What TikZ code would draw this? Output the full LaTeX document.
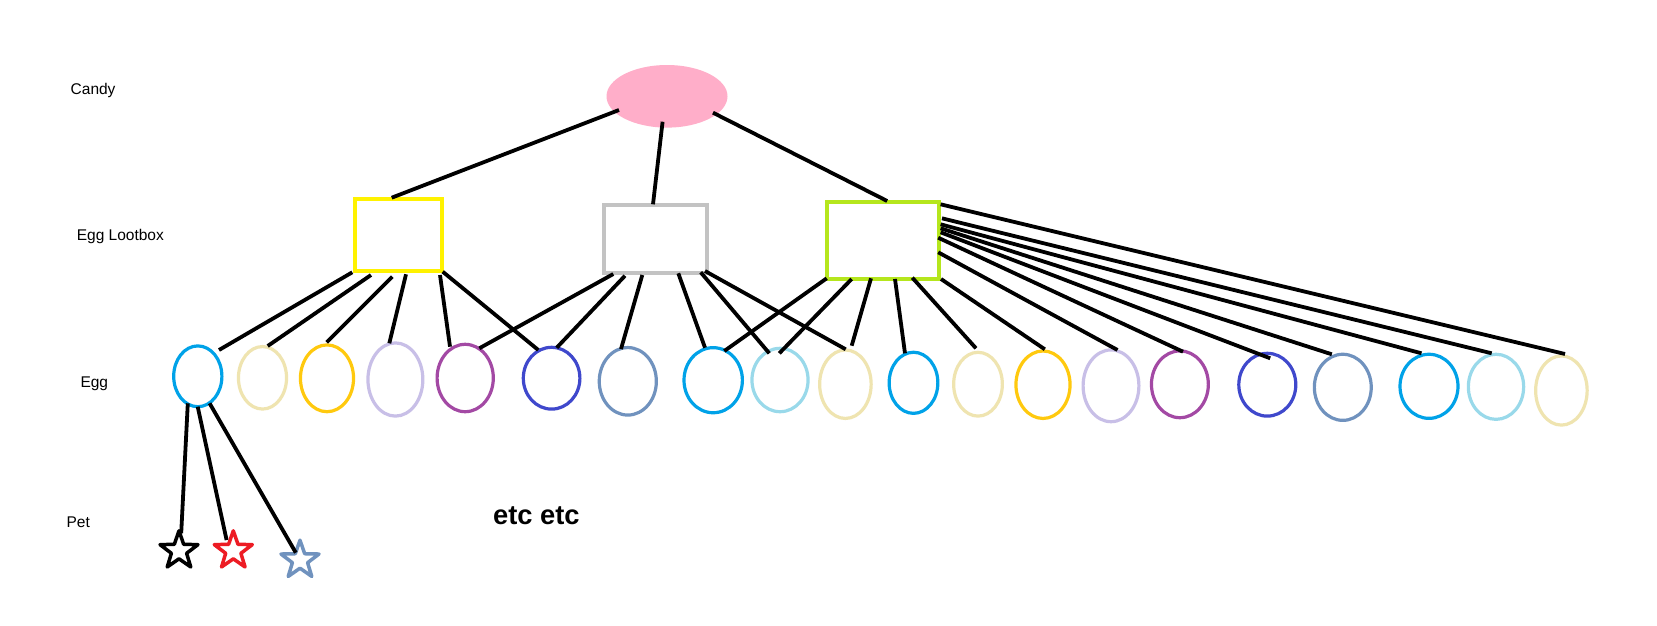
\documentclass[tikz,border=0pt]{standalone}
\usepackage{fontspec}
\setmainfont{Liberation Sans}
\usetikzlibrary{shapes.geometric,calc}
\definecolor{cpink}{RGB}{255,174,201}
\definecolor{cyellow}{RGB}{255,242,0}
\definecolor{cgray}{RGB}{195,195,195}
\definecolor{clime}{RGB}{181,230,29}
\definecolor{cturq}{RGB}{0,162,232}
\definecolor{cltturq}{RGB}{153,217,234}
\definecolor{ccream}{RGB}{239,228,176}
\definecolor{cgold}{RGB}{255,201,14}
\definecolor{clav}{RGB}{200,191,231}
\definecolor{cpurple}{RGB}{163,73,164}
\definecolor{cindigo}{RGB}{63,72,204}
\definecolor{cbgray}{RGB}{112,146,190}
\definecolor{cred}{RGB}{237,28,36}
\newcommand\cnx[4]{\draw[conn] ($(#1)+(#2)$) -- ($(#3)+(#4)$);}
\begin{document}
\begin{tikzpicture}[x=1pt,y=-1pt,
  lbl/.style={anchor=base west, inner sep=0pt, font=\fontsize{15.5}{18}\selectfont},
  box/.style={draw=#1, line width=4pt, rectangle, inner sep=0pt},
  egg/.style={draw=#1, line width=3.2pt, ellipse, inner sep=0pt},
  pet/.style={draw=#1, line width=3.5pt, star, star points=5, star point ratio=2.5,
    minimum size=40pt, inner sep=0pt, line join=round},
  conn/.style={line width=3.8pt, black},
]
\fill[white] (0,0) rectangle (1657,625);
\useasboundingbox (0,0) rectangle (1657,625);

% labels
\node[lbl] (tcandy) at (70.5,94.8) {Candy};
\node[lbl] (tlootbox) at (76.6,240.4) {Egg Lootbox};
\node[lbl] (tegg) at (80.3,387.4) {Egg};
\node[lbl] (tpet) at (66.4,527.3) {Pet};
\node[anchor=base west, inner sep=0pt, font=\fontsize{27.3}{31}\selectfont\bfseries] (tetc) at (493,524.5) {etc etc};

% candy
\node[ellipse, fill=cpink, minimum width=121pt, minimum height=62.6pt, inner sep=0pt] (candy) at (667,96.3) {};

% lootboxes
\node[box=cyellow, minimum width=87pt, minimum height=72pt] (ly) at (398,235.3) {};
\node[box=cgray, minimum width=103pt, minimum height=67.5pt] (lg) at (655,238.75) {};
\node[box=clime, minimum width=112pt, minimum height=76.7pt] (ll) at (882.7,240.35) {};

% eggs
\node[egg=cturq,   minimum width=48.2pt, minimum height=60.8pt] (e1)  at (197.8,376.3) {};
\node[egg=ccream,  minimum width=48.1pt, minimum height=62.5pt] (e2)  at (262.5,377.8) {};
\node[egg=cgold,   minimum width=53.1pt, minimum height=66.8pt] (e3)  at (327,378.3) {};
\node[egg=clav,    minimum width=54.9pt, minimum height=73.2pt] (e4)  at (395.4,379.5) {};
\node[egg=cpurple, minimum width=56.2pt, minimum height=67.4pt] (e5)  at (465.2,378) {};
\node[egg=cindigo, minimum width=56.6pt, minimum height=61.8pt] (e6)  at (551.6,378.2) {};
\node[egg=cbgray,  minimum width=57.1pt, minimum height=67.5pt] (e7)  at (627.8,381.3) {};
\node[egg=cturq,   minimum width=58.4pt, minimum height=65.1pt] (e8)  at (713.2,380.2) {};
\node[egg=cltturq, minimum width=56.1pt, minimum height=63.4pt] (e9)  at (780,380) {};
\node[egg=ccream,  minimum width=51.5pt, minimum height=68.5pt] (e10) at (845.4,384.2) {};
\node[egg=cturq,   minimum width=48.7pt, minimum height=61.1pt] (e11) at (913.5,382.8) {};
\node[egg=ccream,  minimum width=48.7pt, minimum height=63.8pt] (e12) at (978,384.2) {};
\node[egg=cgold,   minimum width=54.1pt, minimum height=67.5pt] (e13) at (1043,384.7) {};
\node[egg=clav,    minimum width=55.8pt, minimum height=71.8pt] (e14) at (1111,385.8) {};
\node[egg=cpurple, minimum width=56.9pt, minimum height=66.8pt] (e15) at (1179.9,384.3) {};
\node[egg=cindigo, minimum width=57pt,   minimum height=62.8pt] (e16) at (1267.3,384.7) {};
\node[egg=cbgray,  minimum width=56.9pt, minimum height=66.1pt] (e17) at (1342.8,387.3) {};
\node[egg=cturq,   minimum width=58pt,   minimum height=64.1pt] (e18) at (1429,386.3) {};
\node[egg=cltturq, minimum width=55.3pt, minimum height=65.1pt] (e19) at (1496,386.8) {};
\node[egg=ccream,  minimum width=51.5pt, minimum height=69.2pt] (e20) at (1561.4,390.5) {};

% pets
\node[pet=black]  (s1) at (179,550.8) {};
\node[pet=cred]   (s2) at (233.3,550.8) {};
\node[pet=cbgray] (s3) at (300,560.2) {};

% candy to lootboxes
\cnx{candy}{-48,13.7}{ly}{-6.3,-37.6}
\cnx{candy}{-4.4,25.4}{lg}{-2,-34.45}
\cnx{candy}{46,16.4}{ll}{4.5,-39.35}

% yellow lootbox
\cnx{ly}{-45.7,37}{e1}{21.2,-26.3}
\cnx{ly}{-27,39.7}{e2}{5.2,-31.8}
\cnx{ly}{-5.7,41.4}{e3}{-0.3,-36}
\cnx{ly}{8,39}{e4}{-6.1,-36.2}
\cnx{ly}{42,39.7}{e5}{-15.2,-31.3}
\cnx{ly}{44.7,36.4}{e6}{-13.3,-28.2}

% gray lootbox
\cnx{lg}{-41.7,35.25}{e5}{14.1,-29.7}
\cnx{lg}{-30,37}{e6}{5.1,-30.5}
\cnx{lg}{-12.7,36.25}{e7}{-6.8,-32.3}
\cnx{lg}{23.3,34.55}{e8}{-8.2,-32.5}
\cnx{lg}{45.7,33.55}{e9}{-10.7,-26.7}
\cnx{lg}{50,32.25}{e10}{0.3,-34.9}

% lime lootbox
\cnx{ll}{-56,37.95}{e8}{11.1,-29.2}
\cnx{ll}{-31,38.65}{e9}{-0.7,-26.7}
\cnx{ll}{-11.7,37.95}{e10}{6.3,-38.5}
\cnx{ll}{12.3,38.65}{e11}{-8.5,-29.5}
\cnx{ll}{29.6,37.35}{e12}{-2,-35.9}
\cnx{ll}{58.3,38.65}{e13}{1.8,-35.4}
\cnx{ll}{55.5,11.95}{e14}{6.5,-35.8}
\cnx{ll}{55.5,-2.65}{e15}{3.1,-32.6}
\cnx{ll}{57.9,-8.05}{e16}{2.9,-26.4}
\cnx{ll}{57.9,-12.05}{e17}{-11,-33}
\cnx{ll}{57.9,-16.05}{e18}{-7.5,-33}
\cnx{ll}{59.3,-22.05}{e19}{-4.3,-33.5}
\cnx{ll}{57.9,-36.05}{e20}{3.6,-36.5}

% egg to pets
\cnx{e1}{-10,27}{s1}{2.2,-17.5}
\cnx{e1}{-0.1,30.4}{s2}{-6.7,-10.8}
\cnx{e1}{11.8,27}{s3}{-4.2,-7.5}
\end{tikzpicture}
\end{document}
